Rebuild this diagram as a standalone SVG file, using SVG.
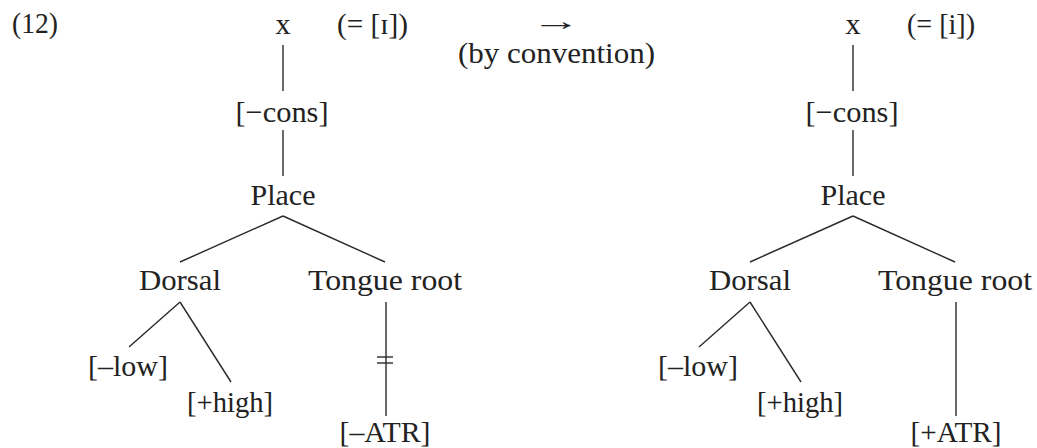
<svg xmlns="http://www.w3.org/2000/svg" width="1037" height="448" viewBox="0 0 1037 448">
<style>
text{font-family:"Liberation Serif","Times New Roman",serif;font-size:30px;fill:#222;text-anchor:middle}
.l{text-anchor:start}
.ar{font-size:26px}
line{stroke:#2a2a2a;stroke-width:1.4;stroke-linecap:butt}
</style>
<rect width="1037" height="448" fill="#fff"/>
<g id="label-12"><text class="l" x="12" y="33" textLength="46" lengthAdjust="spacingAndGlyphs">(12)</text></g>
<g id="arrow"><text class="ar" x="0" y="30" transform="translate(556.5,0) scale(1.9,1)">→</text>
<text x="556.5" y="63" textLength="197" lengthAdjust="spacingAndGlyphs">(by convention)</text></g>

<g id="left-tree">
<g id="L-x"><text x="283" y="34">x</text><text class="l" x="337" y="34" textLength="71" lengthAdjust="spacingAndGlyphs">(= [ɪ])</text></g>
<g id="L-cons"><text x="282" y="122" textLength="93" lengthAdjust="spacingAndGlyphs">[−cons]</text></g>
<g id="L-place"><text x="283" y="205" textLength="65" lengthAdjust="spacingAndGlyphs">Place</text></g>
<g id="L-dorsal"><text x="180" y="290" textLength="82" lengthAdjust="spacingAndGlyphs">Dorsal</text></g>
<g id="L-tr"><text x="385" y="290" textLength="154" lengthAdjust="spacingAndGlyphs">Tongue root</text></g>
<g id="L-low"><text x="128" y="376" textLength="80" lengthAdjust="spacingAndGlyphs">[–low]</text></g>
<g id="L-high"><text x="230" y="412" textLength="86" lengthAdjust="spacingAndGlyphs">[+high]</text></g>
<g id="L-atr"><text x="385" y="442" textLength="91" lengthAdjust="spacingAndGlyphs">[–ATR]</text></g>
</g>

<g id="right-tree">
<g id="R-x"><text x="853" y="34">x</text><text class="l" x="907" y="34" textLength="68" lengthAdjust="spacingAndGlyphs">(= [i])</text></g>
<g id="R-cons"><text x="852" y="122" textLength="93" lengthAdjust="spacingAndGlyphs">[−cons]</text></g>
<g id="R-place"><text x="853" y="205" textLength="65" lengthAdjust="spacingAndGlyphs">Place</text></g>
<g id="R-dorsal"><text x="750" y="290" textLength="82" lengthAdjust="spacingAndGlyphs">Dorsal</text></g>
<g id="R-tr"><text x="955" y="290" textLength="154" lengthAdjust="spacingAndGlyphs">Tongue root</text></g>
<g id="R-low"><text x="698" y="376" textLength="80" lengthAdjust="spacingAndGlyphs">[–low]</text></g>
<g id="R-high"><text x="800" y="412" textLength="86" lengthAdjust="spacingAndGlyphs">[+high]</text></g>
<g id="R-atr"><text x="956" y="442" textLength="91" lengthAdjust="spacingAndGlyphs">[+ATR]</text></g>
</g>

<g id="connectors">
<line x1="283" y1="45" x2="283" y2="91"/>
<line x1="283" y1="130" x2="283" y2="176"/>
<line x1="283" y1="216" x2="180" y2="262"/>
<line x1="283" y1="216" x2="385" y2="262"/>
<line x1="180" y1="302" x2="129" y2="347"/>
<line x1="180" y1="302" x2="231" y2="382"/>
<line x1="386" y1="302" x2="386" y2="416"/>
<line x1="377" y1="357" x2="393" y2="357"/>
<line x1="377" y1="363" x2="393" y2="363"/>
<line x1="853" y1="45" x2="853" y2="91"/>
<line x1="853" y1="130" x2="853" y2="176"/>
<line x1="853" y1="216" x2="750" y2="262"/>
<line x1="853" y1="216" x2="955" y2="262"/>
<line x1="750" y1="302" x2="699" y2="347"/>
<line x1="750" y1="302" x2="801" y2="382"/>
<line x1="956" y1="302" x2="956" y2="416"/>
</g>
</svg>
